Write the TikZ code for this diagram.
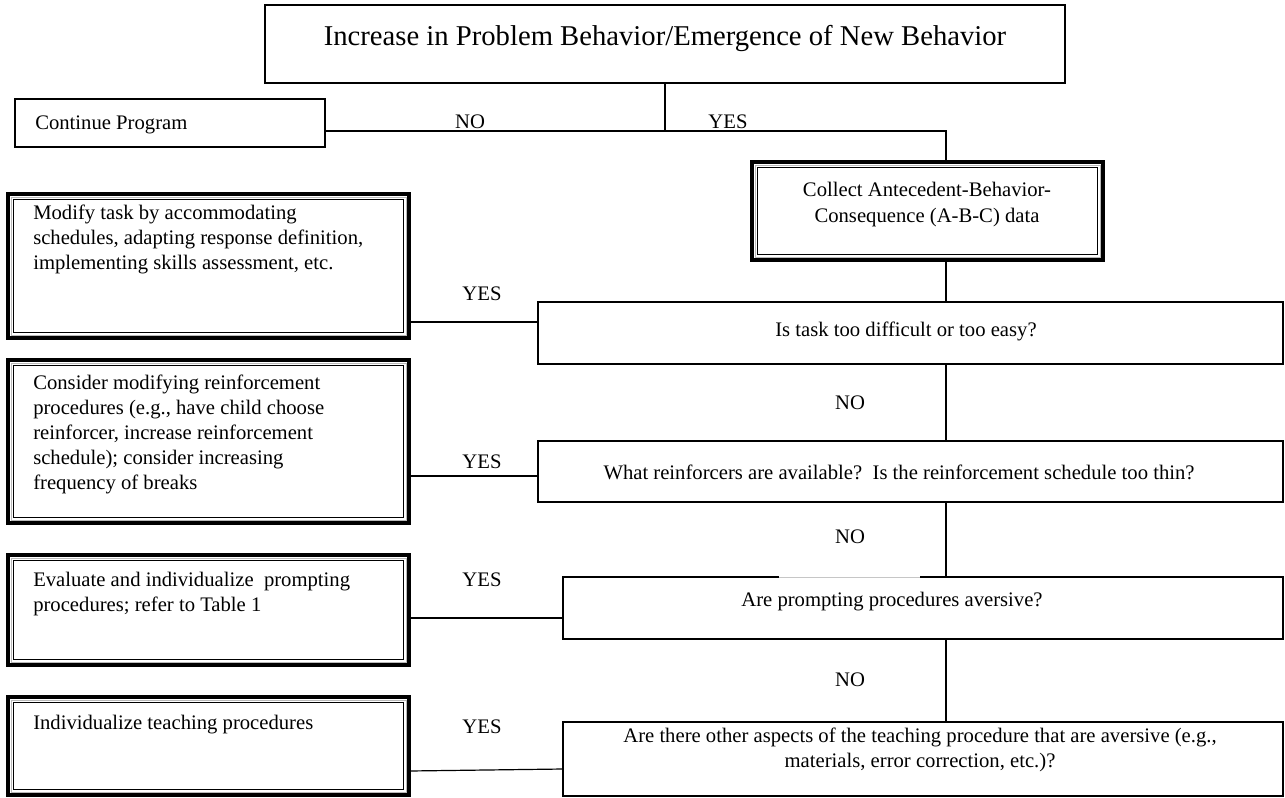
\documentclass[tikz,border=0pt]{standalone}
\usepackage{fontspec}
\setmainfont{Liberation Serif}
\newcommand\flowbox[6]{\node[#6, minimum width={(#4-#2)*0.75pt}, minimum height={(#5-#3)*0.75pt}, anchor=north west] (#1) at (#2,#3) {};}
\tikzset{
  plainbox/.style={draw, line width=0.8pt, inner sep=0pt, outer sep=0pt, fill=white},
  heavybox/.style={draw, line width=3pt, inner sep=0pt, outer sep=0pt, fill=white},
  conn/.style={draw, line width=0.9pt},
  lbl/.style={font=\fontsize{15.5}{18.75}\selectfont, inner sep=1pt},
  txt/.style={font=\fontsize{15.5}{18.75}\selectfont, inner sep=0pt},
  ltxt/.style={txt, align=left, anchor=west},
  ctxt/.style={txt, align=center},
}
\begin{document}
\begin{tikzpicture}[x=0.75pt,y=-0.75pt]
\useasboundingbox (0,0) rectangle (1285,797);
% plain boxes
\flowbox{title}{265}{5}{1065}{83}{plainbox}
\flowbox{cont}{15}{99}{325}{147}{plainbox}
\flowbox{istask}{538}{302}{1283}{364}{plainbox}
\flowbox{what}{538}{441}{1283}{502}{plainbox}
\flowbox{prompt}{563}{577}{1283}{639}{plainbox}
\flowbox{other}{563}{722}{1283}{796}{plainbox}
% heavy framed boxes
\flowbox{collect}{752}{162}{1103}{260}{heavybox}
\flowbox{modify}{8}{194}{409}{338}{heavybox}
\flowbox{consider}{8}{360}{409}{523}{heavybox}
\flowbox{evaluate}{8}{555}{409}{665}{heavybox}
\flowbox{indiv}{8}{697}{409}{795}{heavybox}
\foreach \n in {collect,modify,consider,evaluate,indiv}{
  \draw[gray!55, line width=0.6pt] ([shift={(2.25pt,-2.25pt)}]\n.north west) rectangle ([shift={(-2.25pt,2.25pt)}]\n.south east);
  \draw[line width=0.9pt] ([shift={(4.1pt,-4.1pt)}]\n.north west) rectangle ([shift={(-4.1pt,4.1pt)}]\n.south east);
}
% spine coordinates
\coordinate (j) at (665,131);
\coordinate (sp) at (946,0);
% connectors
\draw[conn] (title.south) -- (j);
\draw[conn] (cont.east |- j) -- (j) -| (collect.north -| sp);
\draw[conn] (collect.south -| sp) -- (istask.north -| sp);
\draw[conn] (istask.south -| sp) -- (what.north -| sp);
\draw[conn] (what.south -| sp) -- (prompt.north -| sp);
\draw[conn] (prompt.south -| sp) -- (other.north -| sp);
\draw[conn] (modify.east |- 0,322) -- (istask.west |- 0,322);
\draw[conn] (consider.east |- 0,476) -- (what.west |- 0,476);
\draw[conn] (evaluate.east |- 0,618) -- (prompt.west |- 0,618);
\draw[conn] (indiv.east |- 0,771) -- (other.west |- 0,769);
% faded segment on top of prompt box
\draw[white, line width=1.2pt] (779,577) -- (920,577);
\draw[gray!45, line width=0.5pt] (779,577) -- (920,577);
% labels
\node[lbl] (no0) at (470,122) {NO};
\node[lbl] (yes0) at (728,122) {YES};
\node[lbl] (yes1) at (482,294) {YES};
\node[lbl] (yes2) at (482,462) {YES};
\node[lbl] (yes3) at (482,580) {YES};
\node[lbl] (yes4) at (482,727) {YES};
\node[lbl] (no1) at (850,403) {NO};
\node[lbl] (no2) at (850,537) {NO};
\node[lbl] (no3) at (850,680) {NO};
% texts
\node[txt, font=\fontsize{21.5}{25}\selectfont] (ttitle) at (665,38) {Increase in Problem Behavior/Emergence of New Behavior};
\node[ltxt] (tcont) at (35,125) {Continue Program};
\node[ctxt, font=\fontsize{15.5}{19.5}\selectfont] (tcollect) at (927,205) {Collect Antecedent-Behavior-\\Consequence (A-B-C) data};
\node[ltxt] (tmodify) at (33,239) {Modify task by accommodating\\schedules, adapting response definition,\\implementing skills assessment, etc.};
\node[ltxt] (tconsider) at (33,434) {Consider modifying reinforcement\\procedures (e.g., have child choose\\reinforcer, increase reinforcement\\schedule); consider increasing\\frequency of breaks};
\node[ltxt] (tevaluate) at (33,594) {Evaluate and individualize\ \ prompting\\procedures; refer to Table 1};
\node[ltxt] (tindiv) at (33,725) {Individualize teaching procedures};
\node[ctxt] (tistask) at (906,331) {Is task too difficult or too easy?};
\node[ctxt] (twhat) at (899,472) {What reinforcers are available?\ \ Is the reinforcement schedule too thin?};
\node[ctxt] (tprompt) at (892,602) {Are prompting procedures aversive?};
\node[ctxt] (tother) at (920,750) {Are there other aspects of the teaching procedure that are aversive (e.g.,\\materials, error correction, etc.)?};
\end{tikzpicture}
\end{document}
